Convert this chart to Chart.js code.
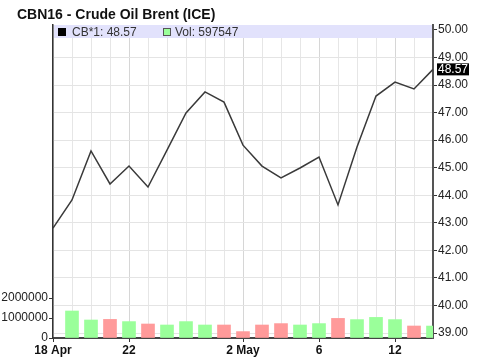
<!DOCTYPE html>
<html>
<head>
<meta charset="utf-8">
<script src="https://cdn.jsdelivr.net/npm/chart.js@4"></script>
<style>
html,body{margin:0;padding:0;background:#fff;}
#c{display:block;}
</style>
</head>
<body>
<canvas id="c" width="478" height="360"></canvas>
<script>
const dates = ['18 Apr','19','20','21','22','25','26','27','28','29','2 May','3','4','5','6','9','10','11','12','13','16'];
const shownDates = ['18 Apr','22','2 May','6','12'];
const price = [42.81,43.83,45.61,44.41,45.06,44.30,45.64,46.99,47.75,47.38,45.82,45.06,44.63,44.99,45.39,43.65,45.75,47.60,48.11,47.86,48.57];
const volume = [null,1350000,900000,930000,820000,700000,650000,820000,650000,650000,320000,650000,720000,650000,720000,980000,920000,1030000,920000,600000,597547];
const priceTicks = [39,40,41,42,43,44,45,46,47,48,49,50];
const volumeTicks = [0,1000000,2000000];
const titleText = 'CBN16 - Crude Oil Brent (ICE)';

const FONT = "'Liberation Sans', Arial, sans-serif";
const barColors = volume.map((v,i) => (i > 0 && price[i] < price[i-1]) ? '#ff9a9a' : '#9aff9a');
const lastPrice = price[price.length-1];
const lastVol = volume[volume.length-1];

const deco = {
  id: 'deco',
  beforeDatasetsDraw(chart) {
    const ctx = chart.ctx, a = chart.chartArea;
    ctx.save();
    ctx.fillStyle = '#e2e2fc';
    ctx.fillRect(a.left + 1, a.top, a.right - a.left - 2, 13);
    ctx.restore();
  },
  afterDraw(chart) {
    const ctx = chart.ctx, a = chart.chartArea;
    ctx.save();
    // title
    ctx.fillStyle = '#111';
    ctx.font = 'bold 14px ' + FONT;
    ctx.textBaseline = 'alphabetic';
    ctx.textAlign = 'left';
    ctx.fillText(titleText, 17, 19);
    // legend
    ctx.font = '12px ' + FONT;
    ctx.fillStyle = '#000';
    ctx.fillRect(58, 28, 8, 8);
    ctx.fillStyle = '#333';
    ctx.textBaseline = 'middle';
    ctx.fillText('CB*1: ' + lastPrice.toFixed(2), 72, 32.5);
    ctx.fillStyle = '#9aff9a';
    ctx.fillRect(163, 28, 8, 8);
    ctx.strokeStyle = '#555';
    ctx.lineWidth = 1;
    ctx.strokeRect(163.5, 28.5, 7, 7);
    ctx.fillStyle = '#333';
    ctx.fillText('Vol: ' + lastVol, 175, 32.5);
    // current value box
    const ys = chart.scales.y;
    const py = ys.getPixelForValue(lastPrice);
    ctx.fillStyle = '#000';
    ctx.fillRect(a.right + 4, py - 6, 32, 12);
    ctx.fillStyle = '#fff';
    ctx.textAlign = 'left';
    ctx.fillText(lastPrice.toFixed(2), a.right + 5, py + 0.5);
    ctx.restore();
  }
};

new Chart(document.getElementById('c'), {
  data: {
    labels: dates,
    datasets: [
      {
        type: 'line',
        data: price,
        yAxisID: 'y',
        borderColor: '#3a3a3a',
        borderWidth: 1.5,
        pointRadius: 0,
        tension: 0,
        fill: false
      },
      {
        type: 'bar',
        data: volume,
        yAxisID: 'v',
        backgroundColor: barColors,
        borderWidth: 0,
        barThickness: 13
      }
    ]
  },
  options: {
    responsive: false,
    animation: false,
    layout: { padding: { top: 25, left: 0, right: 0, bottom: 0 } },
    plugins: { legend: { display: false }, tooltip: { enabled: false }, title: { display: false } },
    scales: {
      x: {
        type: 'category',
        offset: false,
        grid: {
          offset: false,
          color: (c) => shownDates.includes(dates[c.index]) ? '#d6d6d6' : '#e6e6e6',
          tickColor: (c) => shownDates.includes(dates[c.index]) ? '#333' : 'rgba(0,0,0,0)',
          tickLength: 4,
          lineWidth: 1
        },
        border: { color: '#444', width: 2 },
        ticks: {
          autoSkip: false,
          maxRotation: 0,
          padding: 1,
          color: '#111',
          font: { family: FONT, size: 12, weight: 'bold' },
          callback(value) {
            const l = this.getLabelForValue(value);
            return shownDates.includes(l) ? l : '';
          }
        },
        afterFit(s) { s.height = 22; }
      },
      y: {
        type: 'linear',
        position: 'right',
        min: 38.82,
        max: 50.18,
        afterBuildTicks(s) { s.ticks = priceTicks.map(v => ({ value: v })); },
        grid: { color: '#e4e4e4', tickColor: '#333', tickLength: 4, lineWidth: 1 },
        border: { color: '#555', width: 2 },
        ticks: {
          padding: 1,
          color: '#222',
          font: { family: FONT, size: 12 },
          callback: (v) => Number(v).toFixed(2)
        },
        afterFit(s) { s.width = 45; }
      },
      v: {
        type: 'linear',
        position: 'left',
        min: 0,
        max: 15650000,
        afterBuildTicks(s) { s.ticks = volumeTicks.map(v => ({ value: v })); },
        grid: { drawOnChartArea: false, tickColor: '#333', tickLength: 4 },
        border: { color: '#333', width: 1.5 },
        ticks: {
          padding: 1,
          color: '#222',
          font: { family: FONT, size: 12 },
          callback: (v) => String(v)
        },
        afterFit(s) { s.width = 53; }
      }
    }
  },
  plugins: [deco]
});
</script>
</body>
</html>
